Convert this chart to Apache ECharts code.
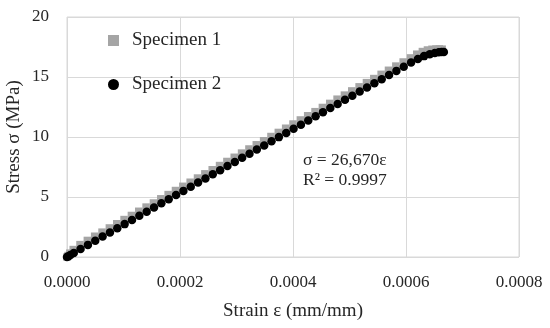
<!DOCTYPE html>
<html>
<head>
<meta charset="utf-8">
<script src="https://cdn.jsdelivr.net/npm/echarts@6/dist/echarts.min.js"></script>
<style>html,body{margin:0;padding:0;background:#fff}#c{width:550px;height:328px}</style>
</head>
<body>
<div id="c"></div>
<script>
const seriesNames = ['Specimen 1', 'Specimen 2'];
const xTicks = [0, 0.0002, 0.0004, 0.0006, 0.0008];
const yTicks = [0, 5, 10, 15, 20];

const s1Strain = [0.0000000,0.0000020,0.0000050,0.0000110,0.0000230,0.0000360,0.0000490,0.0000620,0.0000750,0.0000880,
  0.0001010,0.0001140,0.0001270,0.0001400,0.0001530,0.0001660,0.0001790,0.0001920,0.0002050,0.0002180,
  0.0002310,0.0002440,0.0002570,0.0002700,0.0002830,0.0002960,0.0003090,0.0003220,0.0003350,0.0003480,
  0.0003610,0.0003740,0.0003870,0.0004000,0.0004130,0.0004260,0.0004390,0.0004520,0.0004650,0.0004780,
  0.0004910,0.0005040,0.0005170,0.0005300,0.0005430,0.0005560,0.0005690,0.0005820,0.0005950,0.0006080,
  0.0006190,0.0006290,0.0006380,0.0006460,0.0006530,0.0006590,0.0006640];
const s1Stress = [0.00,0.12,0.32,0.62,1.03,1.38,1.73,2.07,2.42,2.77,
  3.12,3.46,3.81,4.16,4.50,4.85,5.20,5.54,5.89,6.23,
  6.58,6.93,7.27,7.62,7.96,8.31,8.66,9.00,9.35,9.69,
  10.04,10.38,10.73,11.08,11.42,11.77,12.11,12.46,12.80,13.15,
  13.49,13.84,14.18,14.53,14.87,15.22,15.56,15.91,16.25,16.59,
  16.90,17.12,17.25,17.31,17.33,17.34,17.32];

const s2Strain = [0.0000000,0.0000025,0.0000060,0.0000120,0.0000240,0.0000370,0.0000500,0.0000630,0.0000760,0.0000890,
  0.0001020,0.0001150,0.0001280,0.0001410,0.0001540,0.0001670,0.0001800,0.0001930,0.0002060,0.0002190,
  0.0002320,0.0002450,0.0002580,0.0002710,0.0002840,0.0002970,0.0003100,0.0003230,0.0003360,0.0003490,
  0.0003620,0.0003750,0.0003880,0.0004010,0.0004140,0.0004270,0.0004400,0.0004530,0.0004660,0.0004790,
  0.0004920,0.0005050,0.0005180,0.0005310,0.0005440,0.0005570,0.0005700,0.0005830,0.0005960,0.0006090,
  0.0006210,0.0006320,0.0006420,0.0006510,0.0006580,0.0006630,0.0006670];
const s2Stress = [0.00,0.07,0.17,0.33,0.66,1.01,1.35,1.70,2.05,2.40,
  2.74,3.09,3.44,3.78,4.13,4.47,4.82,5.16,5.51,5.85,
  6.20,6.54,6.89,7.23,7.58,7.92,8.27,8.61,8.96,9.30,
  9.65,9.99,10.34,10.68,11.03,11.37,11.72,12.06,12.41,12.75,
  13.10,13.44,13.79,14.13,14.48,14.82,15.17,15.51,15.86,16.20,
  16.50,16.74,16.90,17.00,17.06,17.09,17.08];

const fitText = ['σ = 26,670ε', 'R² = 0.9997'];

const FONT = 'Liberation Serif';
const TXT = '#262626';
const s1 = s1Strain.map((x, i) => [x, s1Stress[i]]);
const s2 = s2Strain.map((x, i) => [x, s2Stress[i]]);

const chart = echarts.init(document.getElementById('c'), null, {renderer: 'canvas'});
chart.setOption({
  animation: false,
  backgroundColor: '#fff',
  textStyle: {fontFamily: FONT},
  grid: {left: 67, right: 31, top: 17, bottom: 71, show: true, borderColor: '#d9d9d9', borderWidth: 1,
         containLabel: false, outerBoundsMode: 'none'},
  legend: {
    orient: 'vertical', left: 108, top: 31, itemGap: 25, padding: 0,
    itemWidth: 11, itemHeight: 11,
    textStyle: {fontFamily: FONT, fontSize: 19, lineHeight: 19, color: TXT, padding: [0, 0, 0, 8]},
    data: [{name: seriesNames[0], icon: 'rect'}, {name: seriesNames[1], icon: 'circle'}]
  },
  xAxis: {
    type: 'value', min: xTicks[0], max: xTicks[xTicks.length - 1], interval: 0.0002,
    name: 'Strain ε (mm/mm)', nameLocation: 'middle', nameGap: 45, nameMoveOverlap: false,
    nameTextStyle: {fontFamily: FONT, fontSize: 19, color: TXT},
    axisLine: {show: false}, axisTick: {show: false},
    axisLabel: {fontFamily: FONT, fontSize: 17, color: TXT, margin: 17, formatter: v => v.toFixed(4)},
    splitLine: {show: true, lineStyle: {color: '#d9d9d9', width: 1}}
  },
  yAxis: {
    type: 'value', min: yTicks[0], max: yTicks[yTicks.length - 1], interval: 5,
    name: 'Stress σ (MPa)', nameLocation: 'middle', nameGap: 43, nameMoveOverlap: false,
    nameTextStyle: {fontFamily: FONT, fontSize: 19, color: TXT},
    axisLine: {show: false}, axisTick: {show: false},
    axisLabel: {fontFamily: FONT, fontSize: 17, color: TXT, margin: 18},
    splitLine: {show: true, lineStyle: {color: '#d9d9d9', width: 1}}
  },
  graphic: [{
    type: 'text', left: 303, top: 150,
    style: {text: fitText.join('\n'), fontFamily: FONT, fontSize: 17.5, lineHeight: 20, fill: TXT}
  }],
  series: [
    {name: seriesNames[0], type: 'scatter', symbol: 'rect', symbolSize: 7.5, data: s1,
     itemStyle: {color: '#a5a5a5', opacity: 1}},
    {name: seriesNames[1], type: 'scatter', symbol: 'circle', symbolSize: 8.5, data: s2,
     itemStyle: {color: '#000', opacity: 1}}
  ]
});
</script>
</body>
</html>
